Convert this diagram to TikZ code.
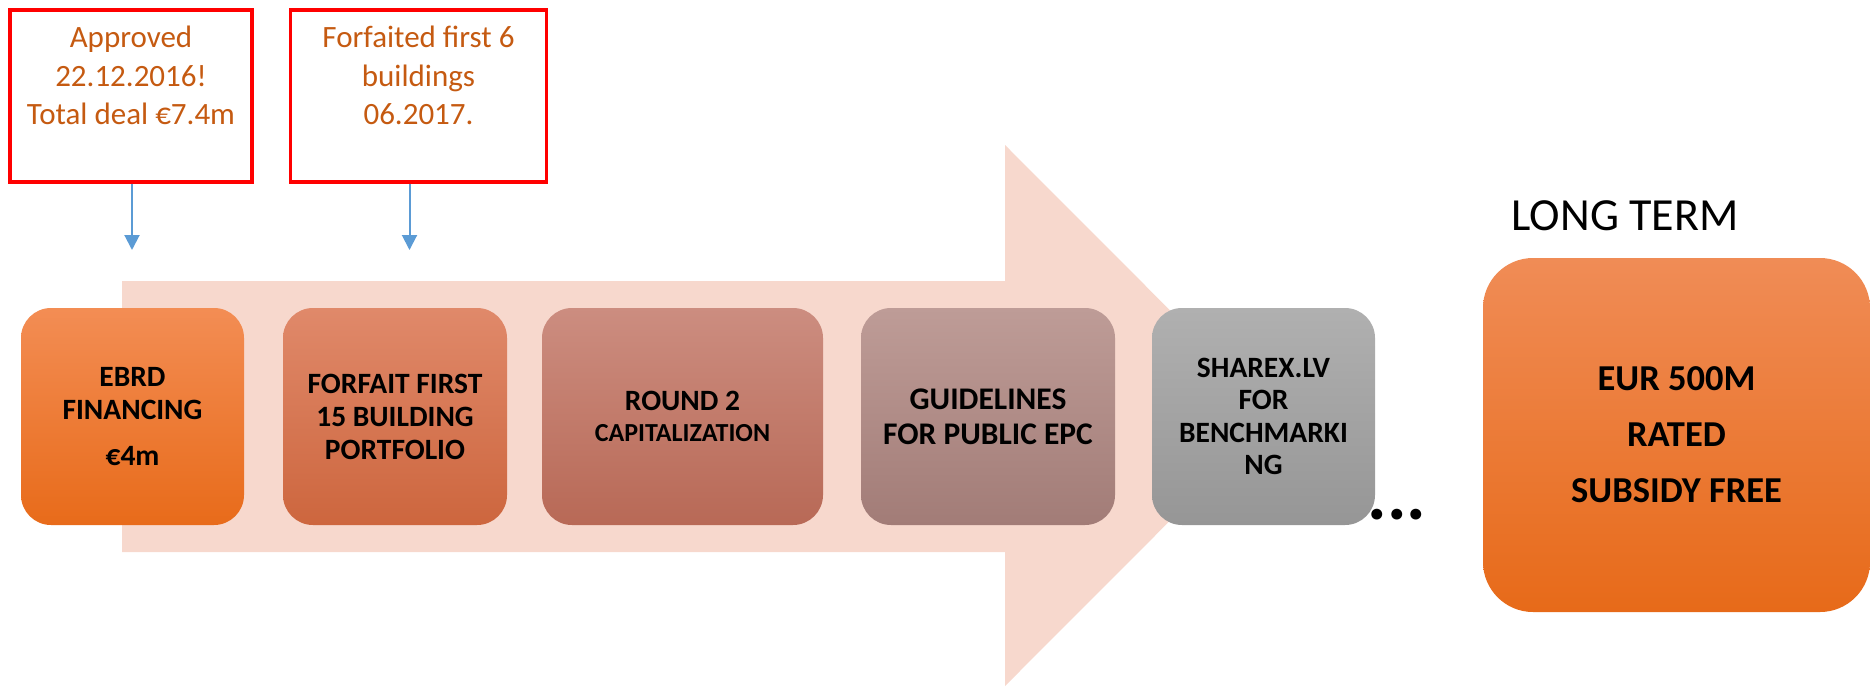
\documentclass[tikz,border=0pt]{standalone}
\usepackage{fontspec}
\setmainfont{Carlito}
\usetikzlibrary{arrows.meta}
\definecolor{notered}{RGB}{255,0,0}
\definecolor{notetext}{RGB}{197,90,17}
\definecolor{edgeblue}{RGB}{91,155,213}
\definecolor{arrowfill}{RGB}{247,216,205}
\begin{document}
\begin{tikzpicture}[x=1pt,y=-1pt]
        \tikzstyle{stage}=[rounded corners=30pt,minimum height=217pt,inner sep=0pt,align=center,font=\bfseries\fontsize{29.5}{33}\selectfont]
        \tikzstyle{note}=[draw=notered,line width=3.3pt,minimum height=172pt,inner sep=0pt,align=center,text=notetext,font=\fontsize{31}{38.5}\selectfont,text depth=41pt]
        \tikzstyle{edge}=[draw=edgeblue,line width=2pt,-{Triangle[length=15pt,width=15pt]}]
        \useasboundingbox (0,0) rectangle (1870,686);
        \fill[arrowfill] (122,281) -- (1005,281) -- (1005,145) -- (1275,415.5) -- (1005,686) -- (1005,552) -- (122,552) -- cycle;
        \begin{scope}
           \node [note,minimum width=242pt] (n1) at (131,96) {Approved\\22.12.2016!\\Total deal €7.4m};
           \node [note,minimum width=255.6pt] (n2) at (418.5,96) {Forfaited first 6\\buildings\\06.2017.};
           \coordinate (a1) at (132,250);
           \coordinate (a2) at (409.5,250);
           \path[edge] (n1.south -| a1) -- (a1);
           \path[edge] (n2.south -| a2) -- (a2);
        \end{scope}
        \begin{scope}
           \node [stage,minimum width=223pt,top color={rgb,255:red,243;green,141;blue,84},bottom color={rgb,255:red,232;green,107;blue,26}] (s1) at (132.5,416.5) {EBRD\\FINANCING\\[13pt]€4m};
           \node [stage,minimum width=224pt,top color={rgb,255:red,224;green,137;blue,106},bottom color={rgb,255:red,205;green,102;blue,62}] (s2) at (395,416.5) {FORFAIT FIRST\\15 BUILDING\\PORTFOLIO};
           \node [stage,minimum width=281pt,font=\bfseries\fontsize{29.5}{31}\selectfont,top color={rgb,255:red,204;green,141;blue,128},bottom color={rgb,255:red,184;green,105;blue,86}] (s3) at (682.5,416.5) {ROUND 2\\{\fontsize{26}{31}\selectfont CAPITALIZATION}};
           \node [stage,minimum width=254pt,font=\bfseries\fontsize{31.5}{35}\selectfont,top color={rgb,255:red,190;green,156;blue,151},bottom color={rgb,255:red,162;green,124;blue,119}] (s4) at (988,416.5) {GUIDELINES\\FOR PUBLIC EPC};
           \node [stage,minimum width=223pt,font=\bfseries\fontsize{29.5}{32.5}\selectfont,top color={rgb,255:red,176;green,176;blue,176},bottom color={rgb,255:red,150;green,150;blue,150}] (s5) at (1263.5,416.5) {SHAREX.LV\\FOR\\BENCHMARKI\\NG};
           \node [anchor=base,font=\bfseries\fontsize{73}{80}\selectfont] (dots) at (1397,519) {...};
        \end{scope}
        \node [anchor=base,font=\fontsize{46}{50}\selectfont] (lt) at (1625,230) {LONG TERM};
        \node [stage,minimum width=387pt,minimum height=354pt,rounded corners=50pt,font=\bfseries\fontsize{36.5}{56}\selectfont,top color={rgb,255:red,240;green,140;blue,86},bottom color={rgb,255:red,231;green,106;blue,25}] (goal) at (1676.5,435) {EUR 500M\\RATED\\SUBSIDY FREE};
\end{tikzpicture}
\end{document}
